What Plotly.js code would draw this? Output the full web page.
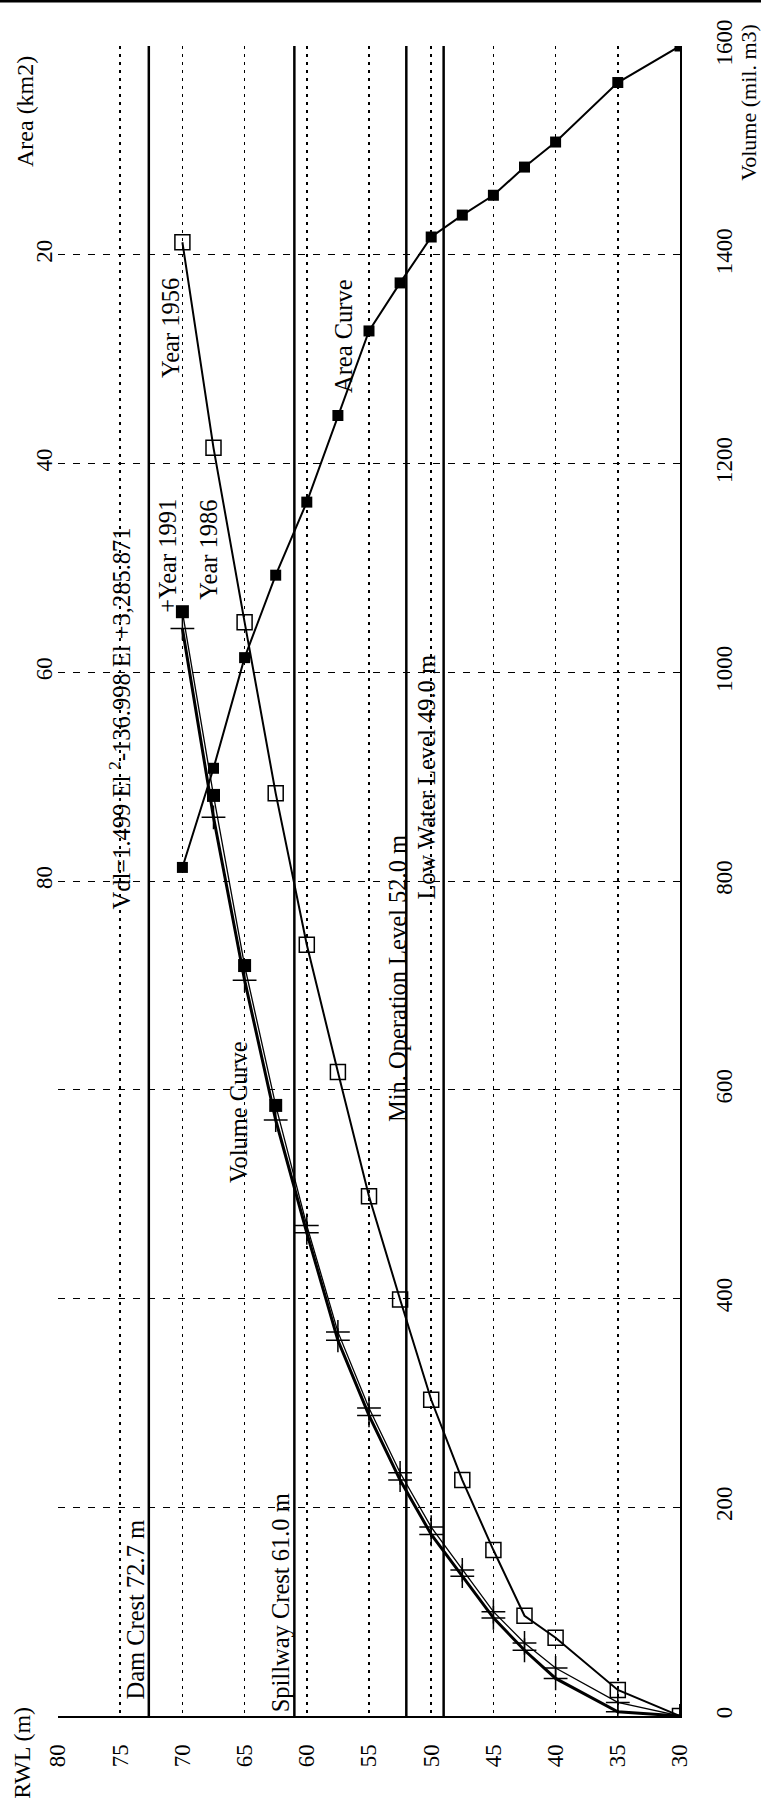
<!DOCTYPE html>
<html><head><meta charset="utf-8">
<script src="https://cdn.plot.ly/plotly-3.0.1.min.js"></script>
<style>html,body{margin:0;padding:0;background:#fff}#chart{width:761px;height:1802px}</style>
</head><body><div id="chart"></div>
<script>
// ---- data ----
const rwl1956 = [30, 35, 40, 42.5, 45, 47.5, 50, 52.5, 55, 57.5, 60, 62.5, 65, 67.5, 70];
const vol1956 = [0, 25, 75, 96, 159, 226, 303, 399, 498, 617, 739, 884, 1048, 1215, 1412];
const rwl1986 = [30, 35, 40, 42.5, 45, 47.5, 50, 52.5, 55, 57.5, 60, 62.5, 65, 67.5, 70];
const vol1986 = [0, 13, 46, 70, 100, 140, 181, 233, 295, 368, 470, 585, 719, 882, 1058];
const rwl1991 = [30, 35, 40, 42.5, 45, 47.5, 50, 52.5, 55, 57.5, 60, 62.5, 65, 67.5, 70];
const vol1991 = [0, 4, 36, 63, 94, 134, 174, 226, 288, 360, 463, 571, 705, 861, 1042];
const rwlArea = [30, 35, 40, 42.5, 45, 47.5, 50, 52.5, 55, 57.5, 60, 62.5, 65, 67.5, 70];
const areaKm2 = [0, 3.5, 9.2, 11.6, 14.3, 16.2, 18.3, 22.7, 27.3, 35.4, 43.7, 50.7, 58.6, 69.2, 78.7];
const levelValues = [72.7, 61.0, 52.0, 49.0];
const levelLabels = ['Dam Crest 72.7 m', 'Spillway Crest 61.0 m', 'Min. Operation Level 52.0 m', 'Low Water Level 49.0 m'];
const curveLabels = ['Vdl=1.499 El <sup>2</sup>-136.998 El +3,285.871', 'Year 1956', '+Year 1991', 'Year 1986', 'Area Curve', 'Volume Curve'];
const rwlTicks = [30, 35, 40, 45, 50, 55, 60, 65, 70, 75, 80];
const volTicks = [0, 200, 400, 600, 800, 1000, 1200, 1400, 1600];
const areaTicks = [20, 40, 60, 80];
const axisTitles = ['RWL (m)', 'Volume (mil. m3)', 'Area (km2)'];

// ---- placement / style ----
const F = 'Liberation Serif, Times New Roman, serif';
const levelLabelPos = [[73.73, 102], [62.15, 108], [52.75, 707], [50.34, 900]];
const curveLabelPos = [[75.0, 956], [70.9, 1330], [71.2, 1112], [67.9, 1117], [57.1, 1322], [65.5, 579]];
const titlePos = [[-0.058, -0.022], [1.111, 0.966], [-0.053, 0.9605]];
const titleSize = [24, 22, 24];
const squareFrom = 62.5;  // 1986 points drawn as filled squares from this level up, crosses below
const sq86 = rwl1986.map((r, i) => i).filter(i => rwl1986[i] >= squareFrom);
const cr86 = rwl1986.map((r, i) => i).filter(i => rwl1986[i] < squareFrom);

const traces = [
  {x: rwlArea, y: areaKm2, yaxis: 'y2', mode: 'lines+markers', name: 'Area Curve',
   line: {color: '#000', width: 2}, marker: {symbol: 'square', size: 11, color: '#000'}},
  {x: rwl1956, y: vol1956, mode: 'lines+markers', name: 'Year 1956',
   line: {color: '#000', width: 2}, marker: {symbol: 'square-open', size: 15, color: '#000', line: {width: 1.5, color: '#000'}}},
  {x: rwl1986, y: vol1986, mode: 'lines', name: 'Year 1986',
   line: {color: '#000', width: 1.3}},
  {x: sq86.map(i => rwl1986[i]), y: sq86.map(i => vol1986[i]), mode: 'markers', name: 'Year 1986',
   marker: {symbol: 'square', size: 13, color: '#000'}},
  {x: cr86.map(i => rwl1986[i]), y: cr86.map(i => vol1986[i]), mode: 'markers', name: 'Year 1986',
   marker: {symbol: 'cross-thin-open', size: 17, color: '#000', line: {width: 1.5, color: '#000'}}},
  {x: rwl1991, y: vol1991, mode: 'lines+markers', name: 'Year 1991',
   line: {color: '#000', width: 3}, marker: {symbol: 'cross-thin-open', size: 17, color: '#000', line: {width: 1.5, color: '#000'}}}
];

const annotations = [];
const annFont = {family: F, size: 24.5, color: '#000'};
levelLabels.forEach((t, i) => annotations.push({x: levelLabelPos[i][0], y: levelLabelPos[i][1], xref: 'x', yref: 'y',
  text: t, textangle: -90, showarrow: false, xanchor: 'center', yanchor: 'middle', font: annFont}));
curveLabels.forEach((t, i) => annotations.push({x: curveLabelPos[i][0], y: curveLabelPos[i][1], xref: 'x', yref: 'y',
  text: t, textangle: -90, showarrow: false, xanchor: 'center', yanchor: 'middle', font: annFont}));
axisTitles.forEach((t, i) => annotations.push({x: titlePos[i][0], y: titlePos[i][1], xref: 'paper', yref: 'paper',
  text: t, textangle: -90, showarrow: false, xanchor: 'center', yanchor: 'middle',
  font: {family: F, size: titleSize[i], color: '#000'}}));

const shapes = levelValues.map(v => ({type: 'line', xref: 'x', yref: 'paper', x0: v, x1: v, y0: 0, y1: 1,
  line: {color: '#000', width: 2.5}}));
shapes.push({type: 'line', xref: 'paper', yref: 'paper', x0: -0.1, x1: 1.15, y0: 1.027, y1: 1.027, line: {color: '#000', width: 3}});

const tickFont = {family: F, size: 23, color: '#000'};
const layout = {
  width: 761, height: 1802,
  margin: {l: 58, r: 81, t: 46, b: 86, pad: 0},
  paper_bgcolor: '#fff', plot_bgcolor: '#fff',
  showlegend: false,
  font: {family: F, size: 23, color: '#000'},
  xaxis: {range: [80, 30], tickvals: rwlTicks, tickangle: -90, ticks: '',
    showgrid: true, gridcolor: '#000', griddash: '3px,5px', gridwidth: 1.6,
    showline: true, linecolor: '#000', linewidth: 2, zeroline: false,
    ticklabelstandoff: 17, tickfont: tickFont},
  yaxis: {range: [0, 1600], side: 'right', tickvals: volTicks, tickangle: -90, ticks: '',
    showgrid: true, gridcolor: '#000', griddash: '7px,8px', gridwidth: 1,
    showline: true, linecolor: '#000', linewidth: 2, zeroline: false,
    ticklabelstandoff: 22, tickfont: tickFont},
  yaxis2: {overlaying: 'y', side: 'left', range: [160, 0], tickvals: areaTicks, tickangle: -90, ticks: '',
    showgrid: false, showline: false, zeroline: false, ticklabelstandoff: 0, tickfont: tickFont},
  shapes: shapes,
  annotations: annotations
};

Plotly.newPlot('chart', traces, layout, {staticPlot: true, displayModeBar: false});
</script>
</body></html>
